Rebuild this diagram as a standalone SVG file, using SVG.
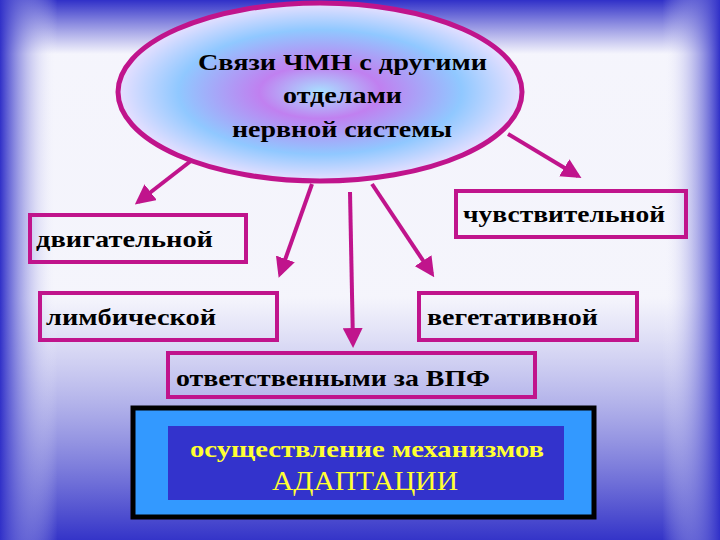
<svg xmlns="http://www.w3.org/2000/svg" width="720" height="540" viewBox="0 0 720 540">
<defs>
<linearGradient id="bgv" x1="0" y1="0" x2="0" y2="1">
<stop offset="0" stop-color="#3030c8"/><stop offset="0.1" stop-color="#f4f4fc" stop-opacity="0.9"/><stop offset="0.55" stop-color="#eeeefa" stop-opacity="0.6"/><stop offset="1" stop-color="#3434c8"/>
</linearGradient>
<linearGradient id="bgh" x1="0" y1="0" x2="1" y2="0">
<stop offset="0" stop-color="#3030c8"/><stop offset="0.08" stop-color="#ffffff" stop-opacity="0"/><stop offset="0.92" stop-color="#ffffff" stop-opacity="0"/><stop offset="1" stop-color="#3030c8"/>
</linearGradient>
<radialGradient id="eg" cx="0.5" cy="0.5" r="0.5">
<stop offset="0" stop-color="#a8e0ff"/><stop offset="0.3" stop-color="#c080f0"/><stop offset="0.7" stop-color="#90c8ff"/><stop offset="1" stop-color="#e8e0ff"/>
</radialGradient>
<marker id="ah" viewBox="0 0 10 10" refX="8" refY="5" markerWidth="5" markerHeight="5" orient="auto"><path d="M0,0 L10,5 L0,10 z" fill="#c0148c"/></marker>
</defs>
<style>
.box{fill:none;stroke:#c0148c;stroke-width:4}
text{font-weight:bold;font-size:24px;fill:#000}
.c line{stroke:#c0148c;stroke-width:4;marker-end:url(#ah)}
</style>
<rect width="720" height="540" fill="#ffffff"/>
<rect width="720" height="540" fill="url(#bgv)"/>
<rect width="720" height="540" fill="url(#bgh)"/>
<g class="c">
<line x1="205" y1="150" x2="138" y2="202"/>
<line x1="312" y1="184" x2="280" y2="274"/>
<line x1="350" y1="192" x2="353" y2="344"/>
<line x1="372" y1="184" x2="432" y2="274"/>
<line x1="508" y1="134" x2="578" y2="176"/>
</g>
<g font-family="'Liberation Serif', 'DejaVu Serif', serif">
<g id="center"><ellipse cx="320" cy="92" rx="202" ry="89" fill="url(#eg)" stroke="#c0148c" stroke-width="5"/>
<text x="198" y="70" textLength="289" lengthAdjust="spacingAndGlyphs">Связи ЧМН с другими</text>
<text x="283" y="103" textLength="119" lengthAdjust="spacingAndGlyphs">отделами</text>
<text x="232" y="137" textLength="220" lengthAdjust="spacingAndGlyphs">нервной системы</text></g>
<g id="n1"><rect class="box" x="30" y="215" width="216" height="47"/><text x="36" y="247" textLength="177" lengthAdjust="spacingAndGlyphs">двигательной</text></g>
<g id="n2"><rect class="box" x="456" y="191" width="230" height="46"/><text x="463" y="222" textLength="202" lengthAdjust="spacingAndGlyphs">чувствительной</text></g>
<g id="n3"><rect class="box" x="40" y="293" width="237" height="47"/><text x="46" y="325" textLength="170" lengthAdjust="spacingAndGlyphs">лимбической</text></g>
<g id="n4"><rect class="box" x="419" y="293" width="218" height="47"/><text x="427" y="325" textLength="171" lengthAdjust="spacingAndGlyphs">вегетативной</text></g>
<g id="n5"><rect class="box" x="168" y="353" width="367" height="44"/><text x="176" y="386" textLength="314" lengthAdjust="spacingAndGlyphs">ответственными за ВПФ</text></g>
<g id="n6"><rect x="133" y="408" width="461" height="109" fill="#3399ff" stroke="#000" stroke-width="5"/>
<rect x="168" y="426" width="396" height="74" fill="#3333cc"/>
<text x="190" y="457" textLength="354" lengthAdjust="spacingAndGlyphs" style="fill:#ffff33">осуществление  механизмов</text>
<text x="272" y="490" textLength="186" lengthAdjust="spacingAndGlyphs" style="fill:#ffff33;font-size:28px;font-weight:normal">АДАПТАЦИИ</text></g>
</g>
</svg>
